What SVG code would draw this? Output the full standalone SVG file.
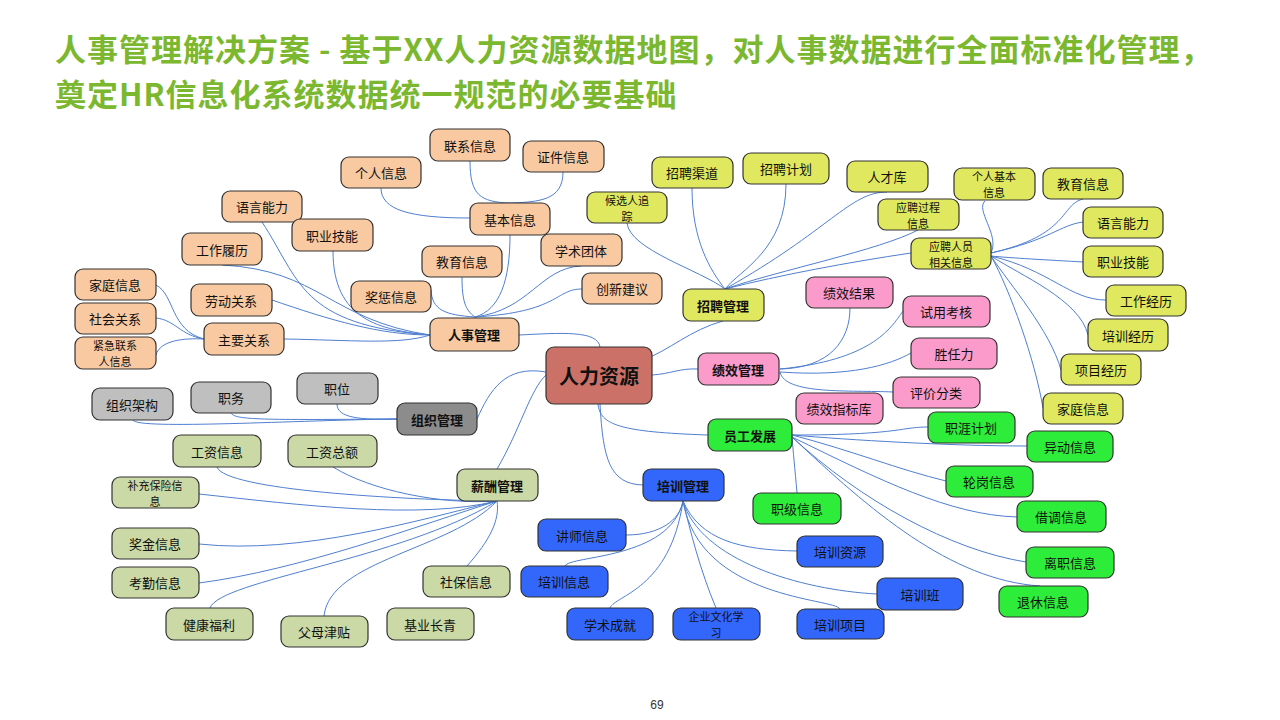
<svg xmlns="http://www.w3.org/2000/svg" width="1280" height="720" viewBox="0 0 1280 720">
<style>
.t{font-family:"Noto Sans CJK SC","Noto Sans",sans-serif;font-size:13px;fill:#111;text-anchor:middle;dominant-baseline:central}
.t2{font-size:11px}
.b{font-weight:bold}
.n rect{stroke:#333;stroke-width:1.2;rx:8;ry:8}
.o rect{fill:#f9c9a2}.y rect{fill:#e0e85f}.p rect{fill:#fb9bcb}.g rect{fill:#2eec3a}.u rect{fill:#3366fb}.s rect{fill:#bfbfbf}.v rect{fill:#cad9a5}
.c path{fill:none;stroke:#4f7fd0;stroke-width:1}
.title{font-family:"Noto Sans CJK SC","Noto Sans",sans-serif;font-size:31px;font-weight:bold;fill:#7cb82f;letter-spacing:1px}
</style>
<rect width="1280" height="720" fill="#fff"/>
<text class="title" x="55" y="61">人事管理解决方案 - 基于XX人力资源数据地图，对人事数据进行全面标准化管理，</text>
<text class="title" x="55" y="106">奠定HR信息化系统数据统一规范的必要基础</text>
<text x="657" y="705" style="font-family:'Liberation Sans',sans-serif;font-size:12px;fill:#333;text-anchor:middle;dominant-baseline:central">69</text>
<g class="c" id="connectors">
<path d="M519,335 C560,333 598,330 600,347"/>
<path d="M723,321 C690,330 670,350 643,360"/>
<path d="M698,369 C680,368 670,374 652,375"/>
<path d="M598,404 C600,425 620,432 708,435"/>
<path d="M600,404 C603,460 610,484 643,485"/>
<path d="M477,419 C490,390 505,365 546,372"/>
<path d="M497,469 C520,430 530,390 546,375"/>
<path d="M510,235 C510,280 500,310 475,317"/>
<path d="M462,277 C462,300 465,310 475,317"/>
<path d="M581,266 C540,268 530,310 475,317"/>
<path d="M582,289 C555,289 560,312 475,317"/>
<path d="M431,290 C432,310 445,315 475,317"/>
<path d="M470,161 C470,195 480,202 510,203"/>
<path d="M563,172 C563,200 540,202 510,203"/>
<path d="M381,188 C381,210 410,218 470,218"/>
<path d="M262,222 C300,280 300,325 430,335"/>
<path d="M333,251 C333,320 380,330 430,335"/>
<path d="M222,265 C320,270 330,320 430,335"/>
<path d="M272,300 C330,320 380,335 430,335"/>
<path d="M284,339 C350,340 400,345 430,335"/>
<path d="M156,285 C175,295 170,330 204,339"/>
<path d="M156,318 C175,320 180,335 204,339"/>
<path d="M156,355 C160,340 185,338 204,339"/>
<path d="M133,420 C136,430 300,420 397,419"/>
<path d="M231,413 C235,420 260,420 397,419"/>
<path d="M337,404 C337,418 360,420 397,419"/>
<path d="M217,467 C225,490 400,500 497,501"/>
<path d="M333,467 C370,490 440,505 497,501"/>
<path d="M199,494 C300,505 420,520 497,501"/>
<path d="M199,544 C300,555 420,520 497,501"/>
<path d="M199,583 C300,570 420,525 497,501"/>
<path d="M210,608 C220,580 400,560 497,501"/>
<path d="M324,616 C330,560 450,550 497,501"/>
<path d="M467,566 C490,540 500,520 497,501"/>
<path d="M627,223 C630,250 700,270 725,289"/>
<path d="M692,188 C692,240 710,270 725,289"/>
<path d="M786,184 C786,250 740,270 725,289"/>
<path d="M887,192 C850,192 830,230 725,289"/>
<path d="M918,230 C880,250 780,270 725,289"/>
<path d="M911,253 C850,262 780,275 725,289"/>
<path d="M985,201 C975,210 1000,235 991,253"/>
<path d="M1083,199 C1060,205 1070,235 991,253"/>
<path d="M1083,222 C1060,225 1050,240 991,253"/>
<path d="M1083,262 C1050,260 1010,258 991,256"/>
<path d="M1106,300 C1070,300 1050,270 991,256"/>
<path d="M1088,335 C1080,300 1020,275 991,256"/>
<path d="M1061,370 C1050,330 1010,285 991,256"/>
<path d="M1043,408 C1035,360 1010,290 991,256"/>
<path d="M850,308 C850,340 830,368 780,369"/>
<path d="M903,311 C890,330 870,360 780,369"/>
<path d="M911,353 C890,365 850,377 780,372"/>
<path d="M893,392 C850,390 785,395 780,372"/>
<path d="M928,427 C900,427 900,435 792,435"/>
<path d="M1027,446 C950,446 850,440 792,435"/>
<path d="M946,481 C900,470 850,450 792,435"/>
<path d="M797,493 C795,470 793,450 792,437"/>
<path d="M1017,517 C950,515 880,480 792,437"/>
<path d="M1026,562 C950,550 860,500 792,437"/>
<path d="M1040,586 C950,580 870,510 792,437"/>
<path d="M626,535 C660,535 680,520 683,501"/>
<path d="M565,566 C570,555 670,560 683,501"/>
<path d="M610,608 C615,595 670,590 683,501"/>
<path d="M716,608 C700,570 690,530 683,501"/>
<path d="M797,551 C740,550 700,540 683,501"/>
<path d="M877,594 C800,590 700,560 683,501"/>
<path d="M840,609 C835,598 700,600 683,501"/>
</g>
<g id="center" class="n"><rect x="546" y="347" width="106" height="57" fill="#cc7167"/><text class="t b" x="599" y="375" style="font-size:20px">人力资源</text></g>
<g id="rs" class="n o"><rect x="430" y="318" width="89" height="33"/><text class="t b" x="474" y="334">人事管理</text></g>
<g id="lxxx" class="n o"><rect x="430" y="129" width="80" height="32"/><text class="t" x="470" y="145">联系信息</text></g>
<g id="zjxx" class="n o"><rect x="523" y="141" width="81" height="31"/><text class="t" x="563" y="156">证件信息</text></g>
<g id="grxx" class="n o"><rect x="341" y="157" width="80" height="31"/><text class="t" x="381" y="172">个人信息</text></g>
<g id="jbxx" class="n o"><rect x="470" y="203" width="80" height="32"/><text class="t" x="510" y="219">基本信息</text></g>
<g id="yynl" class="n o"><rect x="222" y="191" width="80" height="31"/><text class="t" x="262" y="206">语言能力</text></g>
<g id="zyjn" class="n o"><rect x="292" y="219" width="81" height="32"/><text class="t" x="332" y="235">职业技能</text></g>
<g id="gzll" class="n o"><rect x="182" y="233" width="80" height="32"/><text class="t" x="222" y="249">工作履历</text></g>
<g id="xstt" class="n o"><rect x="541" y="234" width="81" height="32"/><text class="t" x="581" y="250">学术团体</text></g>
<g id="jyxx" class="n o"><rect x="422" y="246" width="80" height="31"/><text class="t" x="462" y="261">教育信息</text></g>
<g id="cxjy" class="n o"><rect x="582" y="273" width="80" height="31"/><text class="t" x="622" y="288">创新建议</text></g>
<g id="jcxx" class="n o"><rect x="351" y="281" width="80" height="31"/><text class="t" x="391" y="296">奖惩信息</text></g>
<g id="jtxx" class="n o"><rect x="75" y="269" width="81" height="31"/><text class="t" x="115" y="284">家庭信息</text></g>
<g id="ldgx" class="n o"><rect x="191" y="284" width="81" height="32"/><text class="t" x="231" y="300">劳动关系</text></g>
<g id="shgx" class="n o"><rect x="75" y="303" width="81" height="31"/><text class="t" x="115" y="318">社会关系</text></g>
<g id="zygx" class="n o"><rect x="204" y="323" width="80" height="32"/><text class="t" x="244" y="339">主要关系</text></g>
<g id="jjlx" class="n o"><rect x="75" y="337" width="81" height="32"/><text class="t t2" x="115" y="345">紧急联系</text><text class="t t2" x="115" y="361">人信息</text></g>
<g id="zp" class="n y"><rect x="683" y="289" width="81" height="32"/><text class="t b" x="723" y="305">招聘管理</text></g>
<g id="zpqd" class="n y"><rect x="652" y="157" width="81" height="31"/><text class="t" x="692" y="172">招聘渠道</text></g>
<g id="zpjh" class="n y"><rect x="743" y="153" width="86" height="31"/><text class="t" x="786" y="168">招聘计划</text></g>
<g id="rck" class="n y"><rect x="847" y="161" width="81" height="31"/><text class="t" x="887" y="176">人才库</text></g>
<g id="hxr" class="n y"><rect x="587" y="192" width="80" height="31"/><text class="t t2" x="627" y="200">候选人追</text><text class="t t2" x="627" y="216">踪</text></g>
<g id="ypgc" class="n y"><rect x="878" y="199" width="81" height="31"/><text class="t t2" x="918" y="207">应聘过程</text><text class="t t2" x="918" y="223">信息</text></g>
<g id="grjb" class="n y"><rect x="954" y="168" width="81" height="32"/><text class="t t2" x="994" y="176">个人基本</text><text class="t t2" x="994" y="192">信息</text></g>
<g id="yjyxx" class="n y"><rect x="1043" y="168" width="80" height="31"/><text class="t" x="1083" y="183">教育信息</text></g>
<g id="ypry" class="n y"><rect x="911" y="238" width="80" height="31"/><text class="t t2" x="951" y="246">应聘人员</text><text class="t t2" x="951" y="262">相关信息</text></g>
<g id="yyynl" class="n y"><rect x="1083" y="207" width="80" height="31"/><text class="t" x="1123" y="222">语言能力</text></g>
<g id="yzyjn" class="n y"><rect x="1083" y="246" width="80" height="31"/><text class="t" x="1123" y="261">职业技能</text></g>
<g id="ygzjl" class="n y"><rect x="1106" y="285" width="80" height="31"/><text class="t" x="1146" y="300">工作经历</text></g>
<g id="ypxjl" class="n y"><rect x="1088" y="319" width="80" height="32"/><text class="t" x="1128" y="335">培训经历</text></g>
<g id="yxmjl" class="n y"><rect x="1061" y="354" width="80" height="31"/><text class="t" x="1101" y="369">项目经历</text></g>
<g id="yjtxx" class="n y"><rect x="1043" y="393" width="80" height="31"/><text class="t" x="1083" y="408">家庭信息</text></g>
<g id="jx" class="n p"><rect x="698" y="353" width="81" height="32"/><text class="t b" x="738" y="369">绩效管理</text></g>
<g id="jxjg" class="n p"><rect x="806" y="277" width="87" height="31"/><text class="t" x="849" y="292">绩效结果</text></g>
<g id="sykh" class="n p"><rect x="903" y="296" width="87" height="31"/><text class="t" x="946" y="311">试用考核</text></g>
<g id="srl" class="n p"><rect x="911" y="338" width="86" height="31"/><text class="t" x="954" y="353">胜任力</text></g>
<g id="pjfl" class="n p"><rect x="893" y="377" width="87" height="31"/><text class="t" x="936" y="392">评价分类</text></g>
<g id="jxzb" class="n p"><rect x="796" y="393" width="87" height="31"/><text class="t" x="839" y="408">绩效指标库</text></g>
<g id="yg" class="n g"><rect x="708" y="419" width="84" height="32"/><text class="t b" x="750" y="435">员工发展</text></g>
<g id="zyjh" class="n g"><rect x="928" y="412" width="87" height="31"/><text class="t" x="971" y="427">职涯计划</text></g>
<g id="ydxx" class="n g"><rect x="1027" y="431" width="86" height="31"/><text class="t" x="1070" y="446">异动信息</text></g>
<g id="lgxx" class="n g"><rect x="946" y="466" width="87" height="31"/><text class="t" x="989" y="481">轮岗信息</text></g>
<g id="zjixx" class="n g"><rect x="753" y="493" width="88" height="31"/><text class="t" x="797" y="508">职级信息</text></g>
<g id="jdxx" class="n g"><rect x="1017" y="501" width="89" height="31"/><text class="t" x="1061" y="516">借调信息</text></g>
<g id="lzxx" class="n g"><rect x="1026" y="547" width="88" height="31"/><text class="t" x="1070" y="562">离职信息</text></g>
<g id="txxx" class="n g"><rect x="999" y="586" width="89" height="31"/><text class="t" x="1043" y="601">退休信息</text></g>
<g id="px" class="n u"><rect x="643" y="469" width="81" height="32"/><text class="t b" x="683" y="485">培训管理</text></g>
<g id="jsxx" class="n u"><rect x="538" y="519" width="88" height="32"/><text class="t" x="582" y="535">讲师信息</text></g>
<g id="pxxx" class="n u"><rect x="521" y="566" width="87" height="31"/><text class="t" x="564" y="581">培训信息</text></g>
<g id="xscj" class="n u"><rect x="567" y="608" width="86" height="32"/><text class="t" x="610" y="624">学术成就</text></g>
<g id="qywh" class="n u"><rect x="673" y="608" width="87" height="32"/><text class="t t2" x="716" y="616">企业文化学</text><text class="t t2" x="716" y="632">习</text></g>
<g id="pxzy" class="n u"><rect x="797" y="536" width="86" height="31"/><text class="t" x="840" y="551">培训资源</text></g>
<g id="pxb" class="n u"><rect x="877" y="578" width="86" height="32"/><text class="t" x="920" y="594">培训班</text></g>
<g id="pxxm" class="n u"><rect x="797" y="609" width="87" height="30"/><text class="t" x="840" y="624">培训项目</text></g>
<g id="zz" class="n s"><rect x="397" y="403" width="80" height="32" style="fill:#8c8c8c"/><text class="t b" x="437" y="419">组织管理</text></g>
<g id="zzjg" class="n s"><rect x="92" y="388" width="81" height="32"/><text class="t" x="132" y="404">组织架构</text></g>
<g id="zw" class="n s"><rect x="191" y="382" width="80" height="31"/><text class="t" x="231" y="397">职务</text></g>
<g id="zwei" class="n s"><rect x="297" y="373" width="81" height="31"/><text class="t" x="337" y="388">职位</text></g>
<g id="xc" class="n v"><rect x="457" y="469" width="81" height="32"/><text class="t b" x="497" y="485">薪酬管理</text></g>
<g id="gzxx" class="n v"><rect x="173" y="435" width="88" height="32"/><text class="t" x="217" y="451">工资信息</text></g>
<g id="gzze" class="n v"><rect x="288" y="435" width="89" height="32"/><text class="t" x="332" y="451">工资总额</text></g>
<g id="bcbx" class="n v"><rect x="112" y="477" width="87" height="31"/><text class="t t2" x="155" y="485">补充保险信</text><text class="t t2" x="155" y="501">息</text></g>
<g id="jjxx" class="n v"><rect x="112" y="528" width="87" height="31"/><text class="t" x="155" y="543">奖金信息</text></g>
<g id="kqxx" class="n v"><rect x="112" y="567" width="87" height="31"/><text class="t" x="155" y="582">考勤信息</text></g>
<g id="jkfl" class="n v"><rect x="166" y="608" width="87" height="32"/><text class="t" x="209" y="624">健康福利</text></g>
<g id="fmjt" class="n v"><rect x="281" y="616" width="87" height="31"/><text class="t" x="324" y="631">父母津贴</text></g>
<g id="jycq" class="n v"><rect x="387" y="608" width="87" height="32"/><text class="t" x="430" y="624">基业长青</text></g>
<g id="sbxx" class="n v"><rect x="423" y="566" width="87" height="31"/><text class="t" x="466" y="581">社保信息</text></g>
</svg>
